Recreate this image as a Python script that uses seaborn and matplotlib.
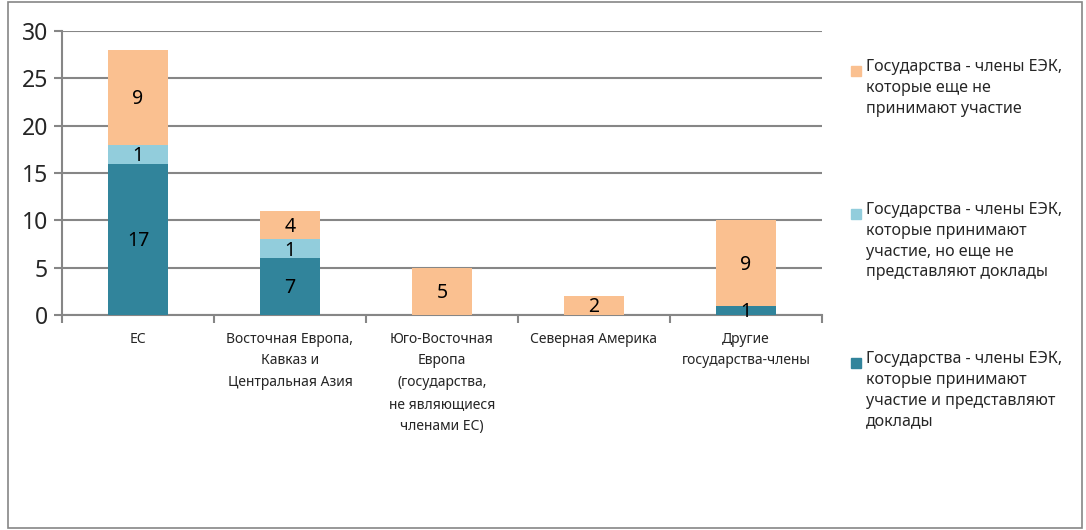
import numpy as np
import pandas as pd
import matplotlib.pyplot as plt
from matplotlib.patches import Rectangle
import seaborn as sns

sns.set_theme(style="white")
plt.rcParams['font.family'] = ['Noto Sans', 'DejaVu Sans']

categories = ["ЕС", "Восточная Европа,\nКавказ и\nЦентральная Азия",
              "Юго-Восточная\nЕвропа\n(государства,\nне являющиеся\nчленами ЕС)",
              "Северная Америка", "Другие\nгосударства-члены"]
# heights as drawn in the picture
reporting = [16, 6, 0, 0, 1]
participating = [2, 2, 0, 0, 0]
not_yet = [10, 3, 5, 2, 9]
# numbers printed on the segments
reporting_lbl = ["17", "7", "", "", "1"]
participating_lbl = ["1", "1", "", "", ""]
not_yet_lbl = ["9", "4", "5", "2", "9"]

series_names = ["Государства - члены ЕЭК,\nкоторые еще не\nпринимают участие",
                "Государства - члены ЕЭК,\nкоторые принимают\nучастие, но еще не\nпредставляют доклады",
                "Государства - члены ЕЭК,\nкоторые принимают\nучастие и представляют\nдоклады"]
colors = ["#FAC090", "#92CDDC", "#31849B"]

df = pd.DataFrame({"cat": categories, "rep": reporting,
                   "par": participating, "not": not_yet})
df["c1"] = df["rep"]
df["c2"] = df["rep"] + df["par"]
df["c3"] = df["c2"] + df["not"]

fig = plt.figure(figsize=(10.86, 5.30), dpi=100)
ax = fig.add_axes([62 / 1086, 1 - 315 / 530, 760 / 1086, 284 / 530])
fig.patches.append(Rectangle((8 / 1086, 2 / 530), 1074 / 1086, 526 / 530,
                             transform=fig.transFigure, fill=False,
                             edgecolor="#868686", lw=1.2))

for col, c in zip(["c3", "c2", "c1"], colors):
    sns.barplot(data=df, x="cat", y=col, color=c, width=0.4, saturation=1,
                ax=ax, zorder=3, linewidth=0)

ax.set_ylim(0, 30)
ax.set_xlim(-0.5, 4.5)
ax.set_yticks(range(0, 31, 5))
ax.yaxis.grid(True, color="#868686", lw=1.5, zorder=0)
ax.set_xlabel("")
ax.set_ylabel("")
for s in ["top", "right"]:
    ax.spines[s].set_visible(False)
for s in ["left", "bottom"]:
    ax.spines[s].set_color("#868686")
    ax.spines[s].set_linewidth(1.5)
ax.tick_params(axis="y", labelsize=16.5, length=6, color="#868686", width=1.5,
               left=True, pad=4)
ax.set_xticks(np.arange(-0.5, 5, 1), minor=True)
ax.tick_params(axis="x", which="minor", length=6, color="#868686", width=1.5, bottom=True)
ax.tick_params(axis="x", which="major", length=0, pad=12)
ax.set_xticks(range(5))
ax.set_xticklabels(categories, fontsize=10, linespacing=1.62, va="top")

for i in range(5):
    segs = [(0, reporting[i], reporting_lbl[i]),
            (df["c1"][i], participating[i], participating_lbl[i]),
            (df["c2"][i], not_yet[i], not_yet_lbl[i])]
    for b, h, t in segs:
        if t:
            ax.text(i, b + h / 2 - 0.2, t, ha="center", va="center", fontsize=14,
                    color="black", zorder=4)

legend_y = [70, 213, 362]
for name, c, y in zip(series_names, colors, legend_y):
    fig.patches.append(Rectangle((851 / 1086, 1 - (y + 6) / 530), 10 / 1086, 10 / 530,
                                 transform=fig.transFigure, color=c))
    fig.text(866 / 1086, 1 - (y - 11) / 530, name, fontsize=11.5, va="top",
             ha="left", linespacing=1.4)

fig.savefig("out.png", dpi=100)
